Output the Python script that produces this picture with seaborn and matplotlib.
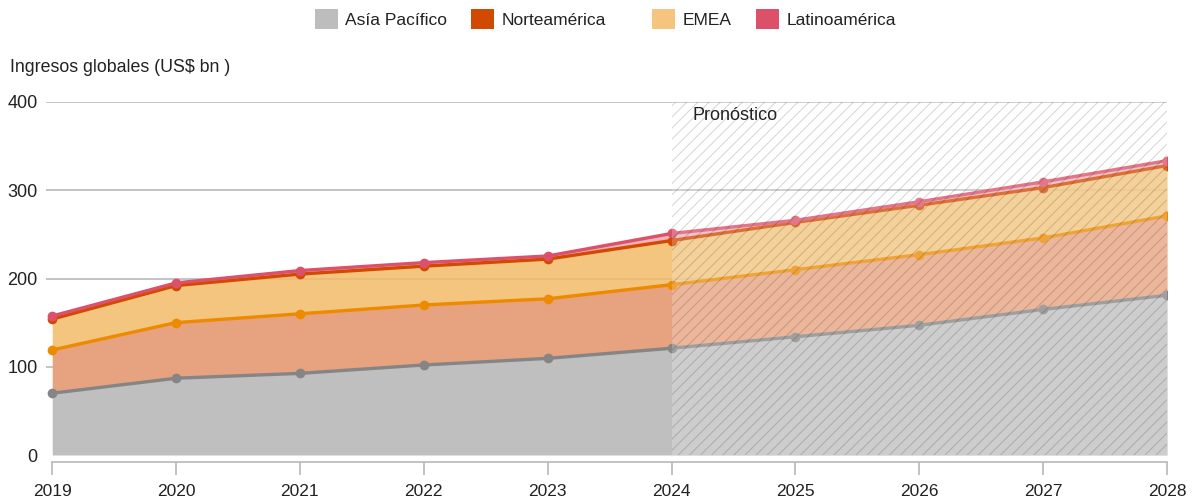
import matplotlib
matplotlib.use("Agg")
import matplotlib.pyplot as plt
from matplotlib.patches import Patch, Rectangle
import seaborn as sns
import pandas as pd

# Revenue by region, US$ bn (forecast from 2024 on)
years = [2019, 2020, 2021, 2022, 2023, 2024, 2025, 2026, 2027, 2028]
asia_pacifico = [70, 87, 92.5, 102, 109.5, 121, 134, 147, 165, 181]
norteamerica = [49, 63, 67.5, 68, 67.5, 72, 76, 80, 81, 90]
emea = [35, 42, 45, 44, 45, 50, 53.5, 56, 57, 57]
latinoamerica = [3.5, 3, 4, 4, 3.5, 8, 2.5, 4, 6.5, 5.5]

series_names = ["Asía Pacífico", "Norteamérica", "EMEA", "Latinoamérica"]
y_ticks = [0, 100, 200, 300, 400]
y_title = "Ingresos globales (US$ bn )"
forecast_label = "Pronóstico"
forecast_start = 2024

legend_colors = ["#bdbdbd", "#d04a02", "#f5c57f", "#dc5069"]
fill_colors = ["#bfbfbf", "#e7a27f", "#f2bb68", "#f0aab4"]
fill_alphas = [1.0, 1.0, 0.85, 0.9]
line_colors = ["#858585", "#ec8b00", "#d24a02", "#dc5069"]

sns.set_theme(style="white")
plt.rcParams["font.family"] = ["Liberation Sans", "DejaVu Sans"]
plt.rcParams["hatch.linewidth"] = 0.75

# Cumulative tops of each stacked band
df = pd.DataFrame({"year": years, "Asía Pacífico": asia_pacifico,
                   "Norteamérica": norteamerica, "EMEA": emea,
                   "Latinoamérica": latinoamerica})
cum = df[series_names].cumsum(axis=1)
cum["year"] = years

fig = plt.figure(figsize=(11.92, 5.01), dpi=100)
ax = fig.add_axes([46 / 1192, 1 - 455 / 501, (1167 - 46) / 1192, (455 - 102) / 501])

lower = [0] * len(years)
for i, name in enumerate(series_names):
    upper = cum[name].tolist()
    ax.fill_between(years, lower, upper, color=fill_colors[i], alpha=fill_alphas[i],
                    linewidth=0, zorder=1)
    lower = upper

# Band outlines with point markers
for i, name in enumerate(series_names):
    sns.lineplot(data=cum, x="year", y=name, ax=ax, color=line_colors[i],
                 linewidth=2.4, marker="o", markersize=7, markeredgewidth=0,
                 zorder=3 + i, legend=False)

ax.set_xlim(2018.95, 2028)
ax.set_ylim(0, 400)
ax.set_yticks(y_ticks)
ax.set_xticks(years)
ax.set_xlabel("")
ax.set_ylabel("")

ax.set_axisbelow(True)
ax.yaxis.grid(True, color="#b3b3b3", linewidth=1.1)
ax.yaxis.get_gridlines()[0].set_visible(False)
ax.xaxis.grid(False)

for s in ["top", "right", "left"]:
    ax.spines[s].set_visible(False)
ax.spines["bottom"].set_position(("outward", 5))
ax.spines["bottom"].set_color("#b8b8b8")
ax.spines["bottom"].set_linewidth(1.2)
ax.spines["bottom"].set_bounds(2019, 2028)

ax.tick_params(axis="x", direction="out", length=9, width=1.2, color="#b8b8b8",
               pad=7, labelsize=12.5, labelcolor="#222222", bottom=True)
ax.tick_params(axis="y", length=0, pad=6, labelsize=13, labelcolor="#222222")

# Forecast shading
ax.add_patch(Rectangle((forecast_start, 0), years[-1] - forecast_start, 400,
                       facecolor=(1, 1, 1, 0.22), edgecolor=(0, 0, 0, 0.16),
                       hatch="///", linewidth=0, zorder=8))
ax.text(forecast_start + 0.17, 385, forecast_label, fontsize=13,
        color="#222222", va="center", ha="left", zorder=9)

fig.text(10 / 1192, 1 - 68 / 501, y_title, fontsize=12.8, color="#222222",
         va="center", ha="left")

# Legend entries placed along the top
legend_x = [315, 471, 652, 756]
for i, name in enumerate(series_names):
    lg = fig.legend(handles=[Patch(facecolor=legend_colors[i], edgecolor="none")],
                    labels=[name], loc="center left",
                    bbox_to_anchor=(legend_x[i] / 1192, 1 - 19 / 501),
                    frameon=False, fontsize=12.5, borderpad=0, borderaxespad=0,
                    handlelength=1.35, handleheight=1.35, handletextpad=0.4)
    for t in lg.get_texts():
        t.set_color("#222222")

fig.savefig("out.png", dpi=100)
